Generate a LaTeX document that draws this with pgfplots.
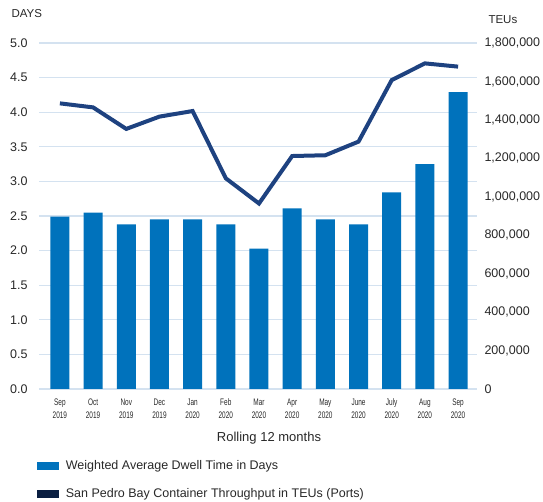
\documentclass[border=0pt]{standalone}
\usepackage{pgfplots}
\pgfplotsset{compat=1.18}
\usepackage{fontspec}
\setmainfont{Liberation Sans}
\newfontfamily\condensed[FakeStretch=0.68]{Liberation Sans}
\definecolor{barblue}{RGB}{0,114,188}
\definecolor{lineblue}{RGB}{30,66,128}
\definecolor{navy}{RGB}{10,30,65}
\definecolor{gridc}{RGB}{212,226,240}
\definecolor{txt}{RGB}{40,40,40}
\begin{document}
\begin{tikzpicture}[x=1pt,y=1pt]
\path[use as bounding box] (-39,-113) rectangle (504,389);
\begin{axis}[
  at={(0,0)}, anchor=south west,
  scale only axis, width=438pt, height=346pt,
  xmin=-0.63, xmax=12.57, ymin=0, ymax=5,
  axis line style={draw=none}, tick style={draw=none},
  ymajorgrids, grid style={gridc, line width=1.2pt},
  ytick={0,0.5,...,5},
  /pgf/number format/assume math mode=true,
  yticklabel={\pgfmathprintnumber[fixed,fixed zerofill,precision=1]{\tick}},
  yticklabel style={font=\fontsize{12.5}{14}\selectfont, text=txt, xshift=-8pt},
  xtick={0,...,12},
  xticklabels={{Sep\\2019},{Oct\\2019},{Nov\\2019},{Dec\\2019},{Jan\\2020},{Feb\\2020},{Mar\\2020},{Apr\\2020},{May\\2020},{June\\2020},{July\\2020},{Aug\\2020},{Sep\\2020}},
  xticklabel style={align=center, font=\condensed\fontsize{9.5}{13}\selectfont, text=txt, yshift=-6pt},
]
\addplot[ybar, bar width=19pt, fill=barblue, draw=none, forget plot] coordinates {
(0,2.49)(1,2.55)(2,2.38)(3,2.45)(4,2.45)(5,2.38)(6,2.03)(7,2.61)(8,2.45)(9,2.38)(10,2.84)(11,3.25)(12,4.29)};
\end{axis}
\begin{axis}[
  at={(0,0)}, anchor=south west,
  scale only axis, width=438pt, height=346pt,
  xmin=-0.63, xmax=12.57, ymin=0, ymax=1800000,
  axis line style={draw=none}, tick style={draw=none},
  axis y line*=right, axis x line=none,
  ytick={0,200000,...,1800000},
  scaled y ticks=false,
  /pgf/number format/assume math mode=true,
  yticklabel style={/pgf/number format/.cd, fixed, 1000 sep={,}, /tikz/.cd, font=\fontsize{12.5}{14}\selectfont, text=txt, xshift=4pt},
  legend style={at={(axis description cs:-0.004,-0.203)}, anchor=north west, draw=none, fill=none,
    font=\fontsize{12.5}{15}\selectfont, text=txt, row sep=15pt, column sep=6pt, inner sep=0pt, legend cell align=left,
    nodes={inner sep=1pt}},
]
\addplot[lineblue, line width=4pt, forget plot] coordinates {
(0,1486000)(1,1465000)(2,1353000)(3,1417000)(4,1446000)(5,1096000)(6,965000)(7,1212000)(8,1216000)(9,1287000)(10,1607000)(11,1694000)(12,1677000)};
\addlegendimage{legend image code/.code={\fill[barblue] (0pt,-3.5pt) rectangle (21pt,3.5pt);}}
\addlegendentry{Weighted Average Dwell Time in Days}
\addlegendimage{legend image code/.code={\fill[navy] (0pt,-3.5pt) rectangle (21pt,3.5pt);}}
\addlegendentry{San Pedro Bay Container Throughput in TEUs (Ports)}
\end{axis}
\node[anchor=west, font=\fontsize{11.5}{13}\selectfont, text=txt] at (-31,375) {DAYS};
\node[anchor=west, font=\fontsize{11.5}{13}\selectfont, text=txt] at (446,369) {TEUs};
\node[font=\fontsize{13}{15}\selectfont, text=txt] at (230,-49) {Rolling 12 months};
\end{tikzpicture}
\end{document}
